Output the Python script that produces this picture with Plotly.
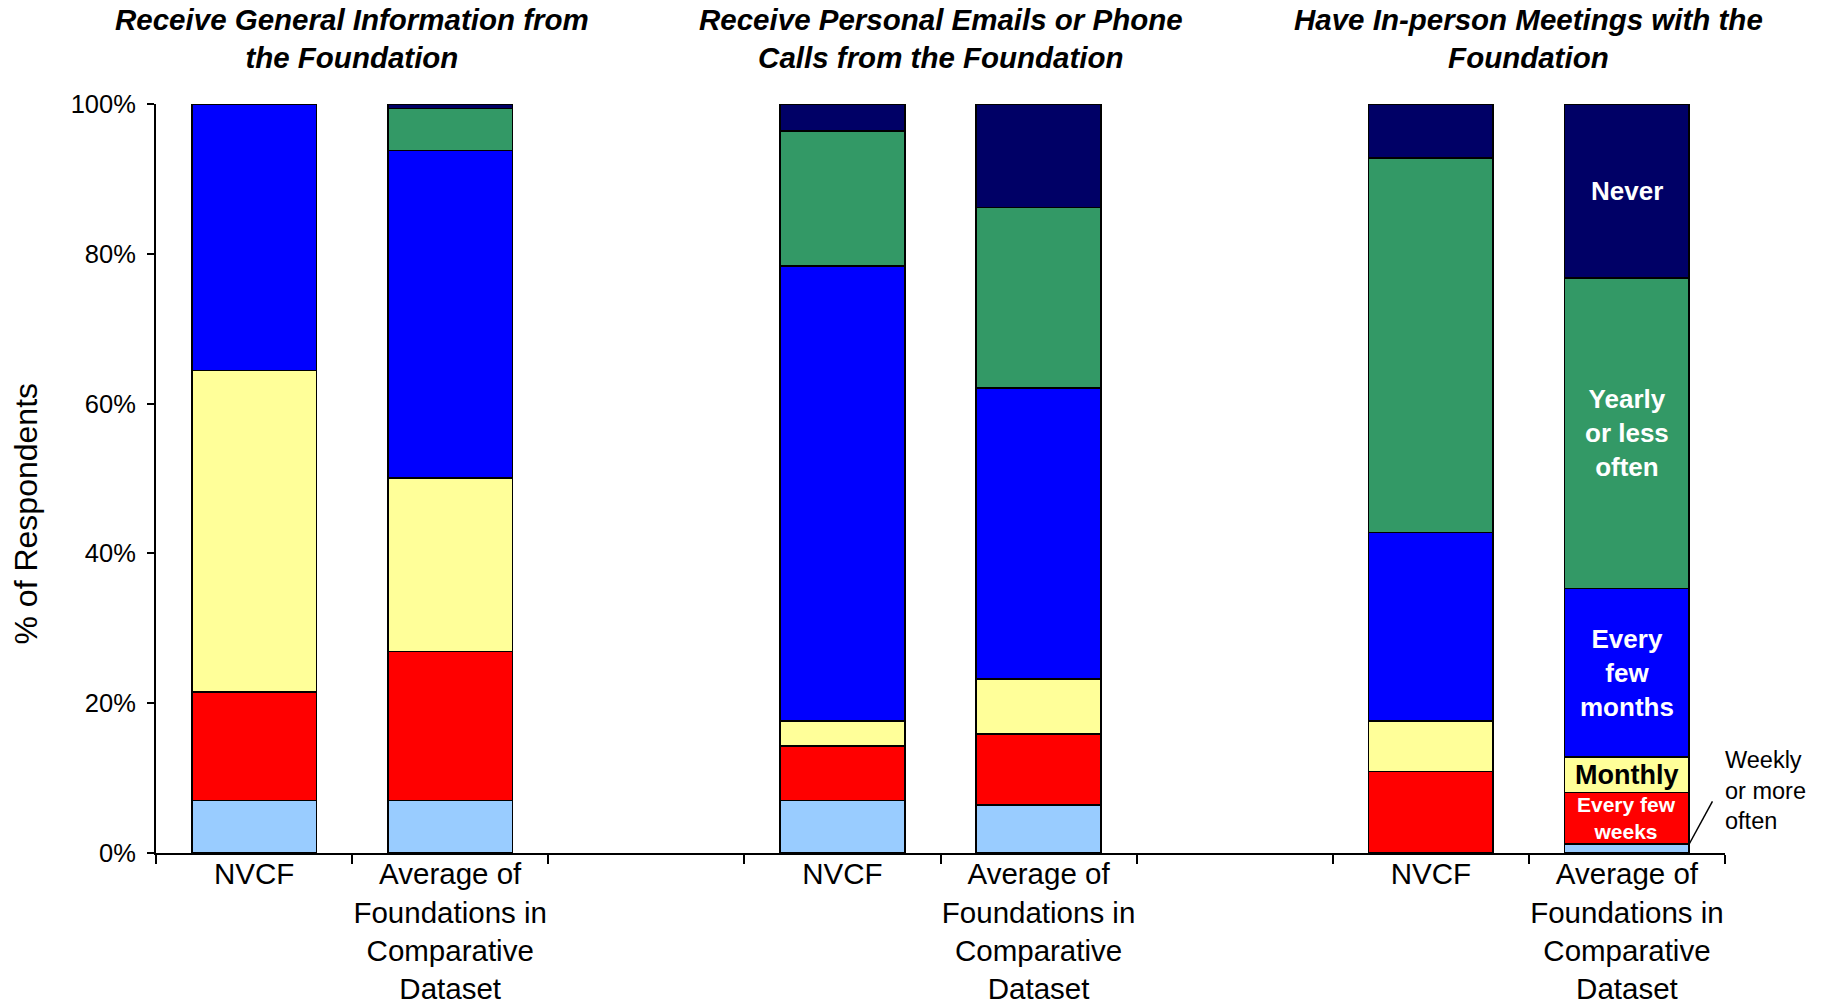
import plotly.graph_objects as go

# ---- data ----
groups = [
    "Receive General Information from<br>the Foundation",
    "Receive Personal Emails or Phone<br>Calls from the Foundation",
    "Have In-person Meetings with the<br>Foundation",
]
bar_labels = ["NVCF", "Average of<br>Foundations in<br>Comparative<br>Dataset"]

series_names = ["Weekly or more often", "Every few weeks", "Monthly",
                "Every few months", "Yearly or less often", "Never"]
series_colors = ["#99CCFF", "#FF0000", "#FFFF99", "#0000FF", "#339966", "#000066"]

# order of bars: G1 NVCF, G1 Avg, G2 NVCF, G2 Avg, G3 NVCF, G3 Avg
weekly = [7.0, 7.0, 7.0, 6.4, 0.0, 1.2]
few_weeks = [14.5, 19.9, 7.3, 9.5, 10.9, 6.9]
monthly = [42.9, 23.2, 3.3, 7.3, 6.7, 4.7]
few_months = [35.6, 43.7, 60.8, 38.9, 25.2, 22.5]
yearly = [0.0, 5.6, 18.0, 24.1, 50.0, 41.5]
never = [0.0, 0.6, 3.6, 13.8, 7.2, 23.2]

series_values = [weekly, few_weeks, monthly, few_months, yearly, never]
y_ticks = [0, 20, 40, 60, 80, 100]

# in-bar labels shown on the last bar
inbar_text = ["", "Every few<br>weeks", "Monthly", "Every<br>few<br>months",
              "Yearly<br>or less<br>often", "Never"]

FONT = "Liberation Sans, Arial, Helvetica, sans-serif"
BAR_W = 0.635

# x slots: each group takes 3 category slots (2 bars + gap); last gap dropped
slots_per_group = 3
xpos = []
for g in range(len(groups)):
    for b in range(len(bar_labels)):
        xpos.append(g * slots_per_group + b)
n_slots = len(groups) * slots_per_group - 1   # 8 slots: 0..7

fig = go.Figure()
for name, color, vals in zip(series_names, series_colors, series_values):
    fig.add_trace(go.Bar(
        x=xpos, y=vals, name=name, width=BAR_W,
        marker=dict(color=color, line=dict(color="black", width=1.6)),
        showlegend=False,
    ))

annotations = []
# group titles
for g, title in enumerate(groups):
    annotations.append(dict(
        x=g * slots_per_group + 0.5, xref="x", y=1.0874, yref="paper",
        text="<b><i>" + title + "</i></b>", showarrow=False,
        xanchor="center", yanchor="middle",
        font=dict(family=FONT, size=29.5, color="black"),
    ))

# in-bar labels on last bar
last = len(xpos) - 1
cum = 0.0
for i, (vals, txt) in enumerate(zip(series_values, inbar_text)):
    v = vals[last]
    mid = cum + v / 2
    cum += v
    if not txt:
        continue
    if i == 2:
        f = dict(family=FONT, size=27, color="black")
    elif i == 1:
        f = dict(family=FONT, size=21, color="white")
    else:
        f = dict(family=FONT, size=26, color="white")
    annotations.append(dict(
        x=xpos[last], xref="x", y=mid, yref="y", text="<b>" + txt + "</b>",
        showarrow=False, xanchor="center", yanchor="middle", font=f,
    ))

# weekly callout
w_last = weekly[last]
annotations.append(dict(
    x=xpos[last] + 0.49, xref="x", y=w_last + 7.1, yref="y",
    text="Weekly<br>or more<br>often", showarrow=False,
    xanchor="left", yanchor="middle", align="left",
    font=dict(family=FONT, size=23.5, color="black"),
))
# y axis title
annotations.append(dict(
    x=-0.083, xref="paper", y=0.453, yref="paper", text="% of Respondents",
    textangle=-90, showarrow=False, xanchor="center", yanchor="middle",
    font=dict(family=FONT, size=32, color="black"),
))

shapes = [dict(
    type="line", xref="x", yref="y",
    x0=xpos[last] + BAR_W / 2, y0=w_last,
    x1=xpos[last] + 0.436, y1=w_last + 5.7,
    line=dict(color="black", width=1.5),
)]

fig.update_layout(
    width=1828, height=1006,
    margin=dict(l=156, r=103, t=104, b=153, autoexpand=False),
    barmode="stack",
    plot_bgcolor="white", paper_bgcolor="white",
    font=dict(family=FONT, color="black"),
    annotations=annotations, shapes=shapes,
    xaxis=dict(
        range=[-0.5, n_slots - 0.5], automargin=False,
        tickmode="array", tickvals=xpos,
        ticktext=[bar_labels[i % len(bar_labels)] for i in range(len(xpos))],
        ticks="", showline=True, linecolor="black", linewidth=2,
        showgrid=False, zeroline=False, ticklabelstandoff=-6,
        tickfont=dict(family=FONT, size=29.5, color="black"),
        minor=dict(tickmode="array",
                   tickvals=[k - 0.5 for k in range(n_slots + 1)],
                   ticks="outside", ticklen=9, tickwidth=1.5, tickcolor="black",
                   showgrid=False),
    ),
    yaxis=dict(
        range=[0, 100], tickmode="array", tickvals=y_ticks, automargin=False,
        ticktext=[f"{t}%" for t in y_ticks],
        ticks="outside", ticklen=7, tickwidth=1.5, tickcolor="black",
        showline=True, linecolor="black", linewidth=2,
        showgrid=False, zeroline=False, ticklabelstandoff=6,
        tickfont=dict(family=FONT, size=25.5, color="black"),
    ),
)

fig.write_html("out.html", config={"displayModeBar": False},
               post_script="document.body.style.margin='0';")
